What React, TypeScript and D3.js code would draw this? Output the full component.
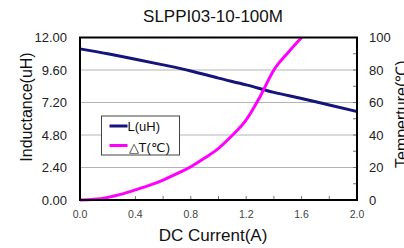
import React, { useRef, useEffect } from 'react';
import * as d3 from 'd3';

// data
const current = [0, 0.2, 0.4, 0.6, 0.8, 1.0, 1.2, 1.4, 1.6, 1.8, 2.0];
const inductance = [11.16, 10.8, 10.4, 9.98, 9.53, 9.0, 8.5, 7.95, 7.5, 7.02, 6.53];
const tempCurrent = [0, 0.1, 0.2, 0.3, 0.4, 0.5, 0.6, 0.7, 0.8, 0.9, 1.0, 1.1, 1.2, 1.3, 1.4, 1.5, 1.6];
const tempRise = [0, 0.4, 1.6, 3.6, 6.2, 9.0, 12.3, 16.2, 20.5, 25.8, 31.8, 39.8, 49.3, 63.6, 80, 90.5, 100];
const leftTicks = [0, 2.4, 4.8, 7.2, 9.6, 12];
const rightTicks = [0, 20, 40, 60, 80, 100];
const xTicks = [0, 0.4, 0.8, 1.2, 1.6, 2.0];

const App = () => {
  const svgRef = useRef<SVGSVGElement>(null);

  useEffect(() => {
    const svg = d3.select(svgRef.current);
    svg.selectAll('*').remove();

    const width = 404;
    const height = 248;
    const margin = { top: 37.5, right: 47, bottom: 48, left: 80 };
    const innerWidth = width - margin.left - margin.right;
    const innerHeight = height - margin.top - margin.bottom;
    const font = 'Liberation Sans, Arial, sans-serif';

    const x = d3.scaleLinear().domain([0, 2]).range([0, innerWidth]);
    const yL = d3.scaleLinear().domain([0, 12]).range([innerHeight, 0]);
    const yT = d3.scaleLinear().domain([0, 100]).range([innerHeight, 0]);

    svg.append('rect').attr('width', width).attr('height', height).attr('fill', '#fff');

    const g = svg.append('g').attr('transform', `translate(${margin.left},${margin.top})`);

    // gridlines
    g.selectAll('.grid')
      .data(leftTicks.slice(1, -1))
      .enter()
      .append('line')
      .attr('x1', 0)
      .attr('x2', innerWidth)
      .attr('y1', d => yL(d))
      .attr('y2', d => yL(d))
      .attr('stroke', '#b4b4b4')
      .attr('stroke-width', 1);

    // bottom ticks (inward, every 0.2)
    g.selectAll('.xt')
      .data(d3.range(1, 10).map(i => i * 0.2))
      .enter()
      .append('line')
      .attr('x1', d => x(d))
      .attr('x2', d => x(d))
      .attr('y1', innerHeight)
      .attr('y2', innerHeight - 4)
      .attr('stroke', '#777');

    // right ticks (inward, every 10)
    g.selectAll('.rt')
      .data(d3.range(1, 10).map(i => i * 10))
      .enter()
      .append('line')
      .attr('x1', innerWidth)
      .attr('x2', innerWidth - 4)
      .attr('y1', d => yT(d))
      .attr('y2', d => yT(d))
      .attr('stroke', '#777');

    // lines
    const lineL = d3.line<number>().x((d, i) => x(current[i])).y(d => yL(d)).curve(d3.curveMonotoneX);
    const lineT = d3.line<number>().x((d, i) => x(tempCurrent[i])).y(d => yT(d)).curve(d3.curveMonotoneX);

    g.append('path').attr('d', lineL(inductance)).attr('fill', 'none').attr('stroke', '#14147a').attr('stroke-width', 3);
    g.append('path').attr('d', lineT(tempRise)).attr('fill', 'none').attr('stroke', '#ff00ff').attr('stroke-width', 3);

    // plot border
    g.append('rect')
      .attr('width', innerWidth)
      .attr('height', innerHeight)
      .attr('fill', 'none')
      .attr('stroke', '#000')
      .attr('stroke-width', 2);

    // left tick labels
    g.selectAll('.ll')
      .data(leftTicks)
      .enter()
      .append('text')
      .attr('x', -13)
      .attr('y', d => yL(d) + 4.5)
      .attr('text-anchor', 'end')
      .style('font-family', font)
      .style('font-size', '13px')
      .attr('fill', '#222')
      .text(d => d.toFixed(2));

    // right tick labels
    g.selectAll('.rl')
      .data(rightTicks)
      .enter()
      .append('text')
      .attr('x', innerWidth + 12)
      .attr('y', d => yT(d) + 4.5)
      .style('font-family', font)
      .style('font-size', '13px')
      .attr('fill', '#222')
      .text(d => d);

    // bottom tick labels
    g.selectAll('.bl')
      .data(xTicks)
      .enter()
      .append('text')
      .attr('x', d => x(d))
      .attr('y', innerHeight + 18)
      .attr('text-anchor', 'middle')
      .style('font-family', font)
      .style('font-size', '10.5px')
      .attr('fill', '#444')
      .text(d => d.toFixed(1));

    // title
    svg.append('text')
      .attr('x', 213)
      .attr('y', 22)
      .attr('text-anchor', 'middle')
      .style('font-family', font)
      .style('font-size', '17px')
      .attr('fill', '#111')
      .text('SLPPI03-10-100M');

    // axis titles
    svg.append('text')
      .attr('x', 213)
      .attr('y', 241)
      .attr('text-anchor', 'middle')
      .style('font-family', font)
      .style('font-size', '17px')
      .attr('fill', '#111')
      .text('DC Current(A)');

    svg.append('text')
      .attr('transform', `translate(32,107) rotate(-90)`)
      .attr('text-anchor', 'middle')
      .style('font-family', font)
      .style('font-size', '16px')
      .attr('fill', '#111')
      .text('Inductance(uH)');

    svg.append('text')
      .attr('transform', `translate(407,168) rotate(-90)`)
      .attr('text-anchor', 'start')
      .style('font-family', font)
      .style('font-size', '16px')
      .attr('fill', '#111')
      .text('Temperture(℃)');

    // legend
    const lg = svg.append('g').attr('transform', 'translate(101.5,116)');
    lg.append('rect').attr('width', 78).attr('height', 39).attr('fill', '#fff').attr('stroke', '#444').attr('stroke-width', 1);
    lg.append('line').attr('x1', 8).attr('x2', 26).attr('y1', 10).attr('y2', 10).attr('stroke', '#14147a').attr('stroke-width', 3);
    lg.append('line').attr('x1', 8).attr('x2', 26).attr('y1', 29.5).attr('y2', 29.5).attr('stroke', '#ff00ff').attr('stroke-width', 3);
    lg.append('text').attr('x', 26).attr('y', 15).style('font-family', font).style('font-size', '13px').attr('fill', '#111').text('L(uH)');
    lg.append('text').attr('x', 27).attr('y', 36).style('font-family', font).style('font-size', '13px').attr('fill', '#111').text('△T(℃)');
  }, []);

  return (
    <svg
      ref={svgRef}
      width={404}
      height={248}
      style={{ position: 'absolute', left: 0, top: 0, display: 'block' }}
    />
  );
};

export default App;
